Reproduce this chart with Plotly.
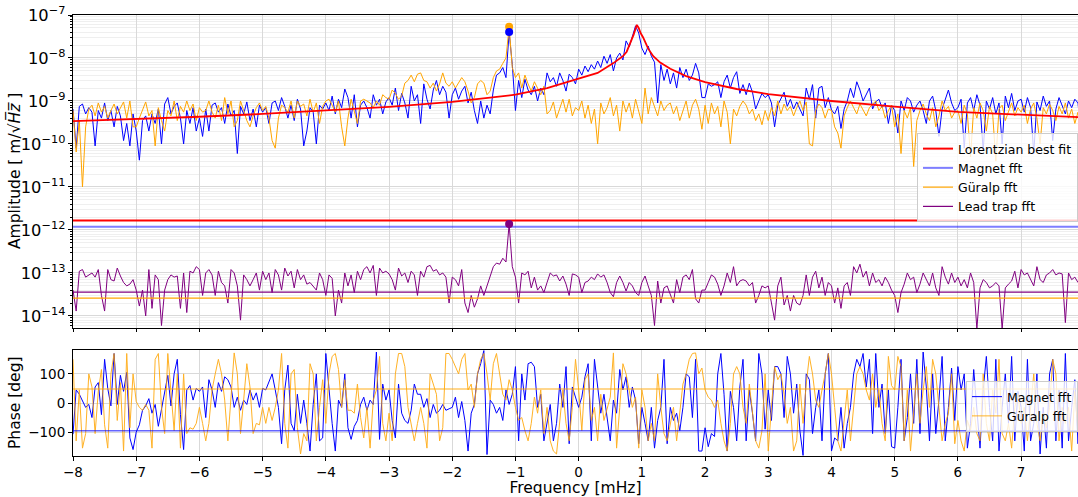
import numpy as np
import plotly.graph_objects as go

# ---------------- data ----------------
f_start = -8.0
f_step = 0.05  # mHz

# Magnet fft amplitude, units of 1e-10 m/sqrt(Hz)
magnet_amp = [
    6.5, 0.8, 7.5, 8.5, 5.0, 7.0, 5.5, 0.9, 6.0, 4.0, 9.0, 3.5, 6.0, 2.5, 7.5, 4.5, 1.2, 3.0, 0.9, 5.0,
    2.0, 0.42, 3.5, 4.5, 2.0, 5.0, 3.0, 6.5, 1.0, 8.5, 12, 5.0, 7.5, 9.0, 4.0, 1.0, 6.0, 3.0, 7.0, 2.0,
    4.0, 1.5, 6.5, 2.0, 8.0, 9.0, 5.5, 7.0, 3.0, 8.5, 4.5, 6.0, 0.6, 7.5, 5.0, 9.5, 3.5, 6.5, 2.5, 8.0,
    5.5, 7.0, 3.0, 9.0, 10, 6.0, 12, 7.5, 4.0, 8.0, 3.5, 11, 6.5, 0.9, 2.0, 7.0, 5.5, 1.0, 8.0, 6.5,
    9.0, 6.0, 13, 5.0, 11, 7.0, 19, 12, 4.0, 14, 2.5, 8.0, 10, 7.0, 4.0, 14, 8.0, 11, 5.0, 9.5,
    12, 8.0, 20, 6.0, 15, 9.0, 4.0, 22, 10, 14, 3.0, 25, 11, 6.5, 18, 30, 14, 22, 16, 4.0,
    14, 20, 11, 17, 22, 9.0, 16, 6.0, 3.0, 10, 4.0, 8.0, 5.0, 18, 40, 45, 60, 35, 400, 70,
    6.0, 30, 12, 32, 18, 14, 22, 10, 20, 14, 45, 28, 35, 22, 45, 30, 17, 42, 35, 25,
    55, 40, 65, 48, 70, 55, 85, 60, 110, 75, 120, 50, 100, 130, 90, 250, 180, 320, 560, 380,
    170, 120, 190, 110, 80, 9.0, 70, 30, 55, 25, 45, 20, 60, 35, 55, 30, 40, 75, 45, 12,
    12, 25, 22, 24, 28, 12, 28, 40, 20, 35, 48, 15, 24, 14, 26, 16, 6.5, 10, 15, 12,
    14, 9.0, 2.5, 8.0, 11, 16, 7.5, 11, 6.5, 9.5, 6.5, 4.5, 20, 11, 24, 4.0, 20, 22, 7.0, 12,
    6.2, 5.0, 7.5, 2.3, 6.5, 10, 20, 12, 28, 18, 10, 14, 20, 6.5, 9.5, 11, 7.0, 9.0, 3.0, 8.0,
    6.0, 1.8, 10, 6.0, 12, 10, 5.5, 8.0, 10, 6.0, 3.0, 10, 13, 6.0, 1.5, 6.5, 11, 18, 9.0, 6.0,
    7.0, 11, 0.8, 9.0, 12, 6.0, 14, 8.0, 0.7, 10, 6.5, 12, 5.0, 9.0, 1.0, 13, 7.0, 15, 6.0, 10,
    11, 5.5, 12, 7.0, 0.6, 9.5, 6.0, 13, 7.5, 10, 1.2, 6.5, 12, 8.0, 5.0, 10, 7.0, 11, 9.0, 1.5,
]

# Guralp fft amplitude, units of 1e-10 m/sqrt(Hz)
guralp_amp = [
    6.0, 0.65, 3.5, 0.1, 2.5, 6.5, 8.0, 4.5, 9.0, 5.5, 7.5, 4.0, 6.0, 8.5, 5.0, 7.0, 9.5, 4.0, 10, 2.5,
    2.5, 4.0, 6.0, 9.5, 4.5, 6.0, 0.9, 7.0, 3.5, 2.0, 6.0, 4.5, 10, 3.5, 7.5, 5.5, 10, 6.0, 8.5, 3.5,
    7.0, 5.5, 6.0, 10, 5.5, 4.0, 8.0, 3.5, 12, 5.0, 10, 2.5, 3.5, 10, 6.0, 3.5, 2.5, 4.5, 7.0, 9.0,
    6.0, 7.5, 4.0, 1.2, 0.8, 4.0, 8.0, 7.0, 5.5, 10, 4.0, 10, 7.5, 8.5, 4.5, 11, 5.5, 9.0, 3.0, 7.5,
    10, 11, 8.0, 5.5, 10, 2.5, 0.9, 4.0, 11, 6.0, 3.0, 10, 11, 10, 9.0, 7.0, 10, 8.0, 14, 12,
    11, 18, 15, 11, 13, 26, 30, 40, 28, 42, 45, 30, 28, 20, 26, 17, 25, 45, 26, 22,
    28, 20, 26, 35, 28, 17, 9.0, 12, 25, 30, 26, 14, 17, 35, 50, 55, 75, 100, 530, 60,
    35, 45, 20, 40, 25, 17, 28, 20, 14, 22, 5.0, 6.0, 9.5, 4.0, 7.0, 11, 5.5, 11, 4.5, 7.0,
    6.0, 10, 4.0, 8.0, 3.0, 6.5, 1.0, 9.0, 5.0, 7.0, 12, 4.5, 8.0, 2.0, 10, 5.5, 9.0, 4.0, 11, 6.0,
    3.0, 20, 5.0, 12, 7.0, 4.5, 10, 6.0, 8.0, 9.0, 5.0, 7.5, 3.5, 6.0, 10, 4.0, 8.0, 11, 6.5, 2.2,
    8.0, 3.0, 9.0, 5.0, 7.5, 2.5, 10, 5.5, 1.0, 6.5, 4.5, 7.5, 10, 8.0, 5.0, 6.5, 3.5, 5.0, 2.8, 6.0,
    3.5, 7.0, 4.5, 10, 5.0, 8.5, 6.0, 7.5, 4.5, 7.0, 10, 6.0, 9.5, 1.0, 0.9, 6.0, 8.5, 7.0, 4.0, 6.5,
    6.0, 2.5, 1.8, 0.8, 4.5, 7.0, 10, 7.0, 5.0, 8.5, 6.0, 4.5, 7.0, 8.5, 10, 6.0, 7.5, 4.0, 6.0, 8.0,
    2.5, 5.0, 0.6, 6.0, 4.0, 7.0, 0.3, 3.5, 6.0, 8.5, 5.0, 3.5, 7.0, 2.5, 4.5, 10, 6.0, 7.5, 4.0, 5.5,
    6.0, 3.0, 8.0, 5.0, 0.5, 7.0, 4.0, 9.0, 6.0, 2.0, 7.5, 5.0, 0.4, 6.5, 8.0, 3.5, 6.0, 9.0, 4.5, 7.0,
    5.5, 8.0, 3.0, 6.5, 9.0, 4.0, 1.0, 7.0, 5.0, 8.5, 6.0, 3.5, 7.5, 5.0, 9.0, 4.0, 6.5, 3.0, 5.5, 2.0,
]

# Lead trap fft amplitude, units of 1e-14 m/sqrt(Hz)
lead_amp = [
    4.0, 1.3, 11, 12, 8.0, 9.0, 10, 8.0, 12, 3.0, 1.3, 12, 7.0, 6.5, 13, 8.5, 6.0, 5.0, 5.5, 7.0,
    4.0, 1.7, 4.0, 1.0, 12, 1.5, 9.0, 7.0, 0.6, 4.0, 7.0, 9.0, 8.0, 8.5, 1.5, 10, 1.2, 11, 10, 14,
    12, 3.0, 10, 12, 9.0, 3.0, 11, 6.0, 5.0, 2.0, 12, 10, 5.0, 0.8, 9.0, 7.0, 5.0, 7.0, 10, 4.0,
    11, 7.0, 10, 3.5, 12, 9.0, 4.0, 13, 8.5, 11, 4.5, 12, 7.0, 9.0, 5.5, 6.0, 5.0, 4.0, 10, 7.0,
    3.0, 9.0, 7.5, 1.0, 4.0, 2.0, 10, 5.0, 9.0, 3.5, 11, 7.0, 12, 14, 10, 15, 3.0, 13, 10, 11,
    9.5, 7.0, 4.0, 13, 8.5, 10, 6.0, 11, 9.0, 3.0, 11, 8.0, 14, 15, 11, 12, 9.0, 10, 8.0, 2.0,
    8.0, 7.0, 5.0, 12, 2.0, 1.2, 3.0, 1.6, 2.5, 5.0, 3.0, 5.0, 8.0, 14, 17, 16, 22, 18, 138, 14,
    8.0, 2.0, 10, 9.0, 11, 4.5, 8.0, 4.0, 5.0, 3.5, 6.0, 10, 8.5, 9.0, 6.5, 8.5, 5.5, 3.0, 9.5, 9.0,
    8.0, 3.5, 6.0, 6.5, 8.0, 7.0, 9.5, 8.0, 9.0, 6.0, 3.5, 2.8, 6.0, 8.5, 6.0, 3.8, 6.0, 5.0, 3.5, 3.0,
    6.0, 8.5, 5.0, 3.0, 0.6, 6.5, 2.0, 4.5, 5.0, 3.0, 2.0, 7.0, 3.5, 8.0, 9.0, 7.0, 12, 2.5, 2.0, 4.0,
    4.0, 6.0, 9.0, 8.0, 5.5, 3.0, 5.0, 10, 6.0, 14, 5.0, 6.5, 7.0, 6.5, 5.0, 6.0, 2.0, 3.0, 5.0, 4.5,
    5.0, 2.0, 0.8, 5.0, 8.0, 1.8, 3.0, 1.3, 3.0, 2.0, 1.8, 3.0, 9.0, 3.0, 8.0, 11, 4.5, 8.0, 3.0, 6.0,
    5.0, 2.0, 4.5, 1.5, 5.0, 6.0, 3.0, 14, 10, 16, 8.0, 11, 5.0, 10, 6.0, 7.0, 5.0, 8.0, 6.0, 4.0,
    3.0, 1.2, 3.5, 5.5, 10, 7.0, 8.0, 3.5, 5.5, 10, 7.0, 5.0, 10, 4.5, 3.0, 14, 8.0, 5.5, 10, 6.0,
    8.0, 5.0, 7.0, 4.5, 10, 6.0, 0.5, 4.5, 7.0, 6.0, 4.5, 5.0, 6.0, 5.0, 0.5, 4.5, 5.5, 6.5, 11, 4.5,
    12, 9.0, 10, 7.0, 5.0, 14, 7.0, 6.0, 9.0, 10, 12, 9.0, 10, 9.5, 0.7, 10, 7.0, 8.0, 6.0, 7.0,
]

# Magnet fft phase [deg]
magnet_phase = [
    -107, 45, 30, 5, -15, -5, -50, 55, 70, -40, 150, 50, -10, 170, -5, 95, 40, 105, -120, -160,
    -100, -75, -25, -10, 15, -35, -5, -80, -25, 40, 95, -10, 100, 150, -40, -160, 45, 60, 10, 50,
    40, 55, -50, 80, 45, -15, 70, 40, 90, 80, 55, -15, 20, -25, 10, -5, 45, 10, 35, -15,
    50, 45, 70, 100, 45, -15, -140, 45, 130, -70, -95, 30, -70, 10, -70, -165, -5, 100, -130, -120,
    170, 40, -70, -165, 10, -15, 100, -85, -125, -80, -60, -5, 20, -25, 10, -5, 175, -125, 65, 10,
    45, -60, -120, 65, -35, -60, -70, -25, 65, 30, 30, -15, 15, -50, -5, -35, -25, -5, -25, -20,
    -15, 20, -50, 5, -60, -165, -35, -5, 100, 135, 180, -177, 10, -5, -35, -15, -60, 45, -5, 30,
    125, -130, 100, 10, 135, 140, 125, -15, 30, -130, -70, -5, -130, -70, 65, -15, 125, -140, 55, 20,
    -15, 20, 90, 135, -130, 150, 45, -35, 30, -50, -130, 10, -35, 115, 45, 90, -15, 55, 10, -140,
    -15, -70, -130, -15, -155, -60, -15, 150, -140, -15, -60, -35, -95, -15, 100, 90, -50, 150, -165, -165,
    -85, -150, -105, -115, 100, 170, 30, -165, 40, -15, -130, 55, 150, -130, 45, -35, -130, 170, 100, -90,
    45, -60, 125, 125, 100, -50, 160, 100, -35, 65, -95, -180, 100, 80, -105, -15, 45, -130, 100, 170,
    -165, -120, -130, -15, -155, -70, -15, 100, 150, 125, 170, 55, 150, -105, 170, -15, 65, -105, 45, -150,
    -155, -15, 150, -130, -50, 100, -70, 150, -105, 175, 55, -130, 100, -105, 10, 160, -130, -15, 120, -60,
    125, 45, 100, -155, -70, 115, -15, -155, 45, 160, -15, -130, 150, -165, -15, 100, -70, 160, -130, 40,
    -15, -165, 150, -130, -70, 100, -175, -15, -155, 100, 150, -130, 45, -155, 170, -130, -15, 80, -140, 30,
]

# Guralp fft phase [deg]
guralp_phase = [
    150, -130, 45, -155, -105, 100, 55, -105, 40, 115, -75, -155, 100, 170, -60, 70, -165, 170, -85, 100,
    5, -15, -25, -5, -25, -155, 150, 170, -15, -105, 170, 45, -95, 100, -155, 100, -105, -85, -90, -70,
    -15, -70, -130, -70, 45, 100, 150, 100, 10, -130, 30, 172, 100, -105, 10, 135, 55, -105, -70, -75,
    -15, -70, -15, -60, -15, 45, 170, -70, -155, 100, 115, -85, -175, -105, -130, 135, 100, -130, -15, 80,
    -70, 100, 160, 170, 115, -15, 80, -25, -25, -35, 65, -50, -120, -15, -155, 10, 45, 160, -70, -130,
    -35, -130, 100, 170, 170, 125, -15, -70, -130, -70, -15, -70, -155, 100, 65, 30, -130, -85, 170, 170,
    150, 125, 100, 150, 170, 45, 65, -15, 100, 150, 170, 100, 10, 135, 170, 100, 30, 10, 80, 45,
    -15, -60, -50, -95, -130, -70, 20, -35, 45, -105, -15, -130, -165, -175, -70, 45, -70, -130, -15, 150,
    45, -95, 80, 100, -60, -15, -130, 30, -60, -15, 20, 172, -155, -15, 135, 100, 45, -15, 20, -155,
    45, -15, -130, -70, -130, 100, -15, -105, -130, -70, -15, -130, -35, 65, 100, 150, 170, 172, 100, 120,
    45, 20, 10, -15, 10, -70, -130, -165, -70, 100, 125, 100, -15, -70, 65, -35, -130, -155, -95, 100,
    -165, -15, 125, 80, 100, 30, -70, -15, -165, -130, 65, -70, 65, 160, 100, 10, -15, 45, 100, 170,
    100, -15, -130, -165, -70, 45, -130, -15, 100, 125, 100, 45, 10, 100, -15, 45, -70, -130, 160, 60,
    45, 160, 125, -130, 45, -165, -15, 100, -70, 45, 125, -15, 150, 100, -15, -130, -70, -35, 100, -140,
    -60, -130, -165, -60, -95, -15, -105, -130, 100, -70, -130, 45, -35, 150, -105, -130, -70, -155, -15, 30,
    -70, -15, -130, -15, 100, -70, -130, -35, -85, -15, 150, 100, -130, -15, -70, -15, -165, 40, -100, 70,
]

# Lorentzian best fit
fit_freq = [-8, -7, -6, -5, -4, -3, -2, -1.5, -1, -0.5, 0, 0.3, 0.55, 0.7, 0.76, 0.82, 0.87, 0.9, 0.92,
            0.95, 0.98, 1.02, 1.1, 1.18, 1.29, 1.45, 1.7, 2, 2.5, 3, 3.5, 4, 5, 6, 7, 7.95]
fit_amp = [3.4e-10, 3.8e-10, 4.3e-10, 5.0e-10, 6.0e-10, 7.3e-10, 9.5e-10, 1.15e-9, 1.4e-9, 2.0e-9, 3.3e-9,
           4.5e-9, 7.6e-9, 1.1e-8, 1.4e-8, 2.2e-8, 3.5e-8, 4.8e-8, 5.9e-8,
           5.0e-8, 3.8e-8, 3.0e-8, 1.65e-8, 1.1e-8, 7.8e-9, 5.6e-9, 3.8e-9, 2.75e-9, 1.9e-9, 1.45e-9,
           1.2e-9, 1.0e-9, 7.4e-10, 5.6e-10, 4.8e-10, 4.2e-10]

# noise-level lines
noise_fit = 1.65e-12
noise_magnet = 1.19e-12
noise_guralp = 2.6e-14
noise_lead = 3.6e-14
phase_magnet_level = -95
phase_guralp_level = 48

# peak markers
peak_freq = -1.1
peak_guralp = 5.3e-8
peak_magnet = 4.0e-8
peak_lead = 1.38e-12

# ---------------- figure ----------------
n = len(magnet_amp)
freq = f_start + f_step * np.arange(n)
mag = np.array(magnet_amp) * 1e-10
gur = np.array(guralp_amp) * 1e-10
lead = np.array(lead_amp) * 1e-14

BLUE = "#0000ff"
ORANGE = "#ffa500"
PURPLE = "#800080"
RED = "#ff0000"
xr = [freq[0], freq[-1]]

fig = go.Figure()

# amplitude panel
fig.add_trace(go.Scatter(x=freq, y=mag, mode="lines", line=dict(color=BLUE, width=1),
                         showlegend=False, xaxis="x", yaxis="y"))
fig.add_trace(go.Scatter(x=freq, y=gur, mode="lines", line=dict(color=ORANGE, width=1),
                         showlegend=False, xaxis="x", yaxis="y"))
fig.add_trace(go.Scatter(x=freq, y=lead, mode="lines", line=dict(color=PURPLE, width=1),
                         showlegend=False, xaxis="x", yaxis="y"))
fig.add_trace(go.Scatter(x=fit_freq, y=fit_amp, mode="lines", line=dict(color=RED, width=1.8),
                         showlegend=False, xaxis="x", yaxis="y"))

fig.add_trace(go.Scatter(x=xr, y=[noise_fit] * 2, mode="lines", line=dict(color=RED, width=2),
                         name="Lorentzian best fit", legend="legend", legendrank=1, xaxis="x", yaxis="y"))
fig.add_trace(go.Scatter(x=xr, y=[noise_magnet] * 2, mode="lines", line=dict(color=BLUE, width=2),
                         opacity=0.5, name="Magnet fft", legend="legend", legendrank=2, xaxis="x", yaxis="y"))
fig.add_trace(go.Scatter(x=xr, y=[noise_guralp] * 2, mode="lines", line=dict(color=ORANGE, width=1.2),
                         name="Güralp fft", legend="legend", legendrank=3, xaxis="x", yaxis="y"))
fig.add_trace(go.Scatter(x=xr, y=[noise_lead] * 2, mode="lines", line=dict(color=PURPLE, width=1.2),
                         name="Lead trap fft", legend="legend", legendrank=4, xaxis="x", yaxis="y"))

fig.add_trace(go.Scatter(x=[peak_freq], y=[peak_guralp], mode="markers",
                         marker=dict(color=ORANGE, size=8), showlegend=False, xaxis="x", yaxis="y"))
fig.add_trace(go.Scatter(x=[peak_freq], y=[peak_magnet], mode="markers",
                         marker=dict(color=BLUE, size=8), showlegend=False, xaxis="x", yaxis="y"))
fig.add_trace(go.Scatter(x=[peak_freq], y=[peak_lead], mode="markers",
                         marker=dict(color=PURPLE, size=8), showlegend=False, xaxis="x", yaxis="y"))

# phase panel
fig.add_trace(go.Scatter(x=freq, y=magnet_phase, mode="lines", line=dict(color=BLUE, width=1),
                         name="Magnet fft", legend="legend2", xaxis="x2", yaxis="y2"))
fig.add_trace(go.Scatter(x=freq, y=guralp_phase, mode="lines", line=dict(color=ORANGE, width=1),
                         opacity=0.85, name="Güralp fft", legend="legend2", xaxis="x2", yaxis="y2"))
fig.add_trace(go.Scatter(x=xr, y=[phase_magnet_level] * 2, mode="lines",
                         line=dict(color=BLUE, width=1.5), opacity=0.6, showlegend=False,
                         xaxis="x2", yaxis="y2"))
fig.add_trace(go.Scatter(x=xr, y=[phase_guralp_level] * 2, mode="lines",
                         line=dict(color=ORANGE, width=1.5), opacity=0.6, showlegend=False,
                         xaxis="x2", yaxis="y2"))

FONT = "DejaVu Sans"
GRID = "#d9d9d9"
MINOR = "#efefef"
tickvals = list(range(-8, 8))

plot_w = 1078 - 73
plot_h = 497 - 15 - 41
top_dom = [(456 - 328) / plot_h, 1.0]
bot_dom = [0.0, (456 - 350) / plot_h]

amp_title = "Amplitude [ m/√<i>H\u0305z\u0305</i> ]"
title_x = (15 - 73) / plot_w

fig.update_layout(
    width=1078, height=497,
    margin=dict(l=73, r=0, t=15, b=41),
    paper_bgcolor="white", plot_bgcolor="white",
    font=dict(family=FONT, size=12, color="black"),
    xaxis=dict(domain=[0, 1], anchor="y", range=[-8, 7.9], dtick=1, tick0=0, showticklabels=False,
               showgrid=True, gridcolor=GRID, zeroline=False, showline=True, linecolor="black",
               mirror=True, ticks="outside", ticklen=3, tickcolor="black"),
    yaxis=dict(domain=top_dom, anchor="x", type="log", range=[-14.28, -7], dtick=1,
               exponentformat="power", showexponent="all",
               showgrid=True, gridcolor=GRID, zeroline=False, showline=True, linecolor="black",
               mirror=True, ticks="outside", ticklen=4, tickcolor="black",
               tickfont=dict(size=13),
               minor=dict(dtick="D1", showgrid=True, gridcolor=MINOR, ticks="outside",
                          ticklen=2, tickcolor="black")),
    xaxis2=dict(domain=[0, 1], anchor="y2", range=[-8, 7.9], tickvals=tickvals,
                showgrid=True, gridcolor=GRID, zeroline=False, showline=True, linecolor="black",
                mirror=True, ticks="outside", ticklen=4, tickcolor="black",
                tickfont=dict(size=13.5),
                title=dict(text="Frequency [mHz]", font=dict(size=15.5), standoff=2)),
    yaxis2=dict(domain=bot_dom, anchor="x2", range=[-182, 182], tickvals=[-100, 0, 100],
                showgrid=True, gridcolor=GRID, zeroline=False, showline=True, linecolor="black",
                mirror=True, ticks="outside", ticklen=4, tickcolor="black",
                tickfont=dict(size=13.5)),
    legend=dict(x=1.0, y=(456 - 133) / plot_h, xanchor="right", yanchor="top",
                bgcolor="rgba(255,255,255,0.8)", bordercolor="#cccccc", borderwidth=1,
                font=dict(size=12.5), tracegroupgap=0, itemwidth=30),
    legend2=dict(x=1.0, y=(456 - 381) / plot_h, xanchor="right", yanchor="top",
                 bgcolor="rgba(255,255,255,0.8)", bordercolor="#cccccc", borderwidth=1,
                 font=dict(size=12.5), tracegroupgap=0, itemwidth=30),
    annotations=[
        dict(text=amp_title, xref="paper", yref="paper", x=title_x, y=(456 - 171) / plot_h,
             xanchor="center", yanchor="middle", textangle=-90, showarrow=False,
             font=dict(size=15.5, family=FONT, color="black")),
        dict(text="Phase [deg]", xref="paper", yref="paper", x=title_x, y=(456 - 403) / plot_h,
             xanchor="center", yanchor="middle", textangle=-90, showarrow=False,
             font=dict(size=15.5, family=FONT, color="black")),
    ],
)

fig.write_html("out.html")
